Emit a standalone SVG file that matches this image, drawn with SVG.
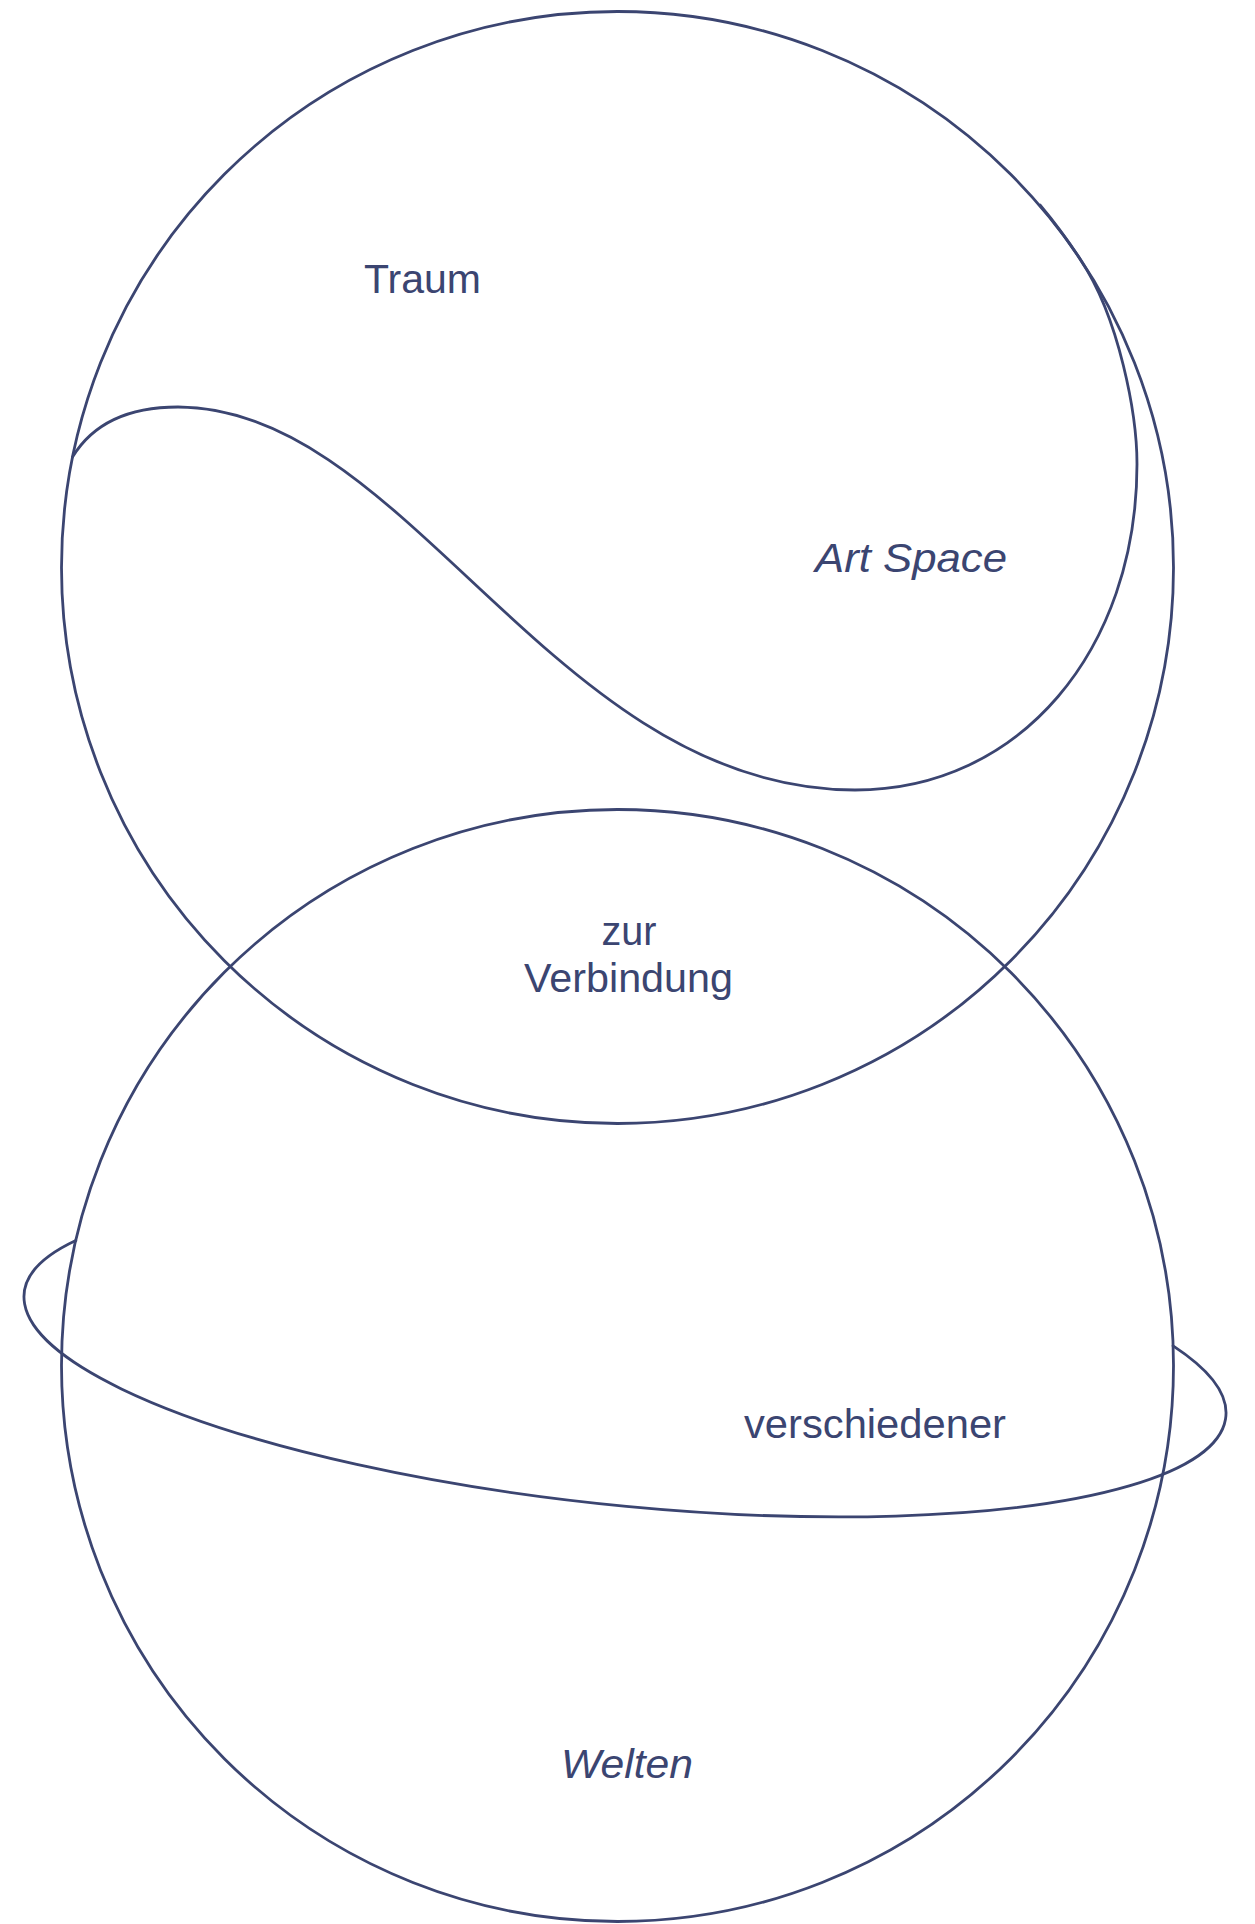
<svg xmlns="http://www.w3.org/2000/svg" width="1255" height="1924" viewBox="0 0 1255 1924">
  <style>
    .line { fill: none; stroke: #3b4571; stroke-width: 2.8; stroke-linecap: round; }
    .lbl { fill: #3b4571; font-family: "Liberation Sans", Arial, sans-serif; font-size: 40px; }
    .it { font-style: italic; }
  </style>
  <rect width="1255" height="1924" fill="#ffffff"/>
  <g id="top-sphere">
    <circle class="line" cx="617.5" cy="567.5" r="556"/>
    <path id="art-space-curve" class="line" d="M 72.5 457 C 95 420, 135 407, 178 407 C 408 407, 555 790, 855 790 C 1020 790, 1137 650, 1137 464 C 1137 415, 1119.4 318.3, 1080.7 260 A 556 556 0 0 0 1040 205"/>
  </g>
  <g id="bottom-sphere">
    <circle class="line" cx="617.5" cy="1365.5" r="556"/>
    <path id="ring" class="line" d="M 75.8 1240.5 A 604 150.5 5.88 1 0 1173.1 1345.8"/>
  </g>
  <g id="labels">
    <text id="t-traum" class="lbl" x="364" y="293" textLength="117" lengthAdjust="spacingAndGlyphs">Traum</text>
    <text id="t-artspace" class="lbl it" x="815" y="572" textLength="192" lengthAdjust="spacingAndGlyphs">Art Space</text>
    <text id="t-zur" class="lbl" x="601.5" y="945" textLength="55" lengthAdjust="spacingAndGlyphs">zur</text>
    <text id="t-verbindung" class="lbl" x="524" y="992" textLength="209" lengthAdjust="spacingAndGlyphs">Verbindung</text>
    <text id="t-verschiedener" class="lbl" x="744" y="1438" textLength="262" lengthAdjust="spacingAndGlyphs">verschiedener</text>
    <text id="t-welten" class="lbl it" x="561" y="1778" textLength="132" lengthAdjust="spacingAndGlyphs">Welten</text>
  </g>
</svg>
